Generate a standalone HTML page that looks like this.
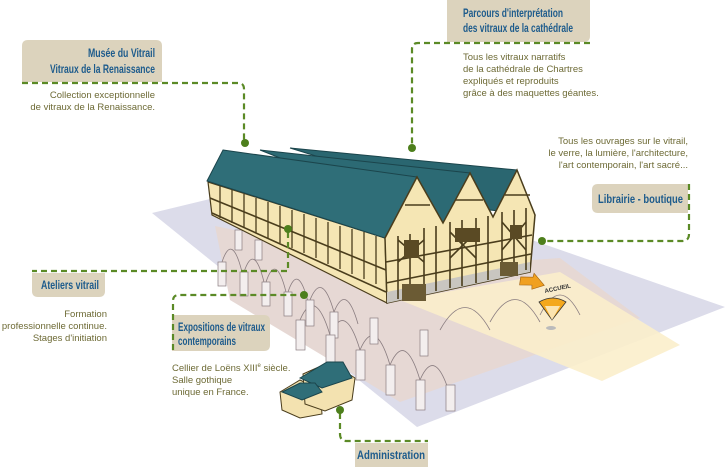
<!DOCTYPE html>
<html><head><meta charset="utf-8"><style>
html,body{margin:0;padding:0;background:#fff;}
svg{display:block}
.t{font-family:"Liberation Sans",sans-serif;font-weight:bold;font-size:11.5px;fill:#1d5b8c}
.b{font-family:"Liberation Sans",sans-serif;font-size:9.5px;fill:#6d6a35}
.d{fill:none;stroke:#5b8a26;stroke-width:2.2;stroke-dasharray:6,4}
.box{fill:#dcd3bd}
.col{fill:#f3eeee;stroke:#8a7d80;stroke-width:.7}
.arc{fill:none;stroke:#8a7d80;stroke-width:.8}
.tim{stroke:#4a3d1c;stroke-width:1.6;fill:none}
</style></head><body>
<svg width="728" height="467" viewBox="0 0 728 467" xmlns="http://www.w3.org/2000/svg">
<polygon points="152,213 330,170 725,307 417,427" fill="#dcdcea"/>
<polygon points="215,226 420,268 560,258 640,318 400,402 230,300" fill="#e6d8d4"/>
<polygon points="400,300 560,272 680,345 602,381" fill="#fbeecb" opacity=".9"/>
<g>
<path class="arc" d="M222,262 q10,-30 20,10 M244,272 q10,-30 20,10 M266,282 q10,-30 20,10 M288,292 q10,-30 20,10 M310,300 q12,-30 24,12 M334,312 q12,-30 24,12"/>
<path class="arc" d="M300,320 q15,-35 30,15 M330,335 q15,-35 30,15 M360,350 q15,-35 30,15 M390,365 q15,-35 30,15 M420,380 q15,-35 30,15"/>
<path class="arc" d="M440,330 q25,-45 50,0 M490,322 q25,-45 50,0 M540,315 q20,-40 40,0"/>
<rect class="col" x="218" y="262" width="8" height="24"/>
<rect class="col" x="240" y="272" width="8" height="24"/>
<rect class="col" x="262" y="282" width="8" height="24"/>
<rect class="col" x="284" y="292" width="8" height="24"/>
<rect class="col" x="306" y="300" width="8" height="26"/>
<rect class="col" x="330" y="312" width="8" height="26"/>
<rect class="col" x="296" y="320" width="9" height="30"/>
<rect class="col" x="326" y="335" width="9" height="30"/>
<rect class="col" x="356" y="350" width="9" height="30"/>
<rect class="col" x="386" y="365" width="9" height="30"/>
<rect class="col" x="416" y="380" width="9" height="30"/>
<rect class="col" x="446" y="385" width="9" height="26"/>
<rect class="col" x="370" y="318" width="8" height="26"/>
<rect class="col" x="420" y="330" width="8" height="26"/>
<rect class="col" x="255" y="240" width="7" height="20"/>
<rect class="col" x="235" y="230" width="7" height="20"/>
</g>
<polygon points="208,182 385,238 387,303 212,215" fill="#f5e6b4" stroke="#4a3d1c" stroke-width="1.2"/>
<g class="tim">
<line x1="210" y1="198" x2="386" y2="270"/>
<line x1="212" y1="213" x2="386" y2="292"/>
<path d="M220,186v32 M232,190v33 M244,194v34 M256,198v35 M268,202v36 M280,206v37 M292,210v38 M304,214v39 M316,218v40 M328,222v42 M340,226v43 M352,229v45 M364,232v47 M376,236v48" stroke-width="1.3"/>
</g>
<polygon points="290,148 517,170 535,215 490,210" fill="#2a6670" stroke="#1b454c"/>
<polygon points="260,150 470,173 493,217 443,223" fill="#2c6a74" stroke="#1b454c"/>
<polygon points="223,150 417,177 385,238 207,181" fill="#2f6e78" stroke="#1b454c"/>
<polygon points="385,238 417,177 443,223 470,173 493,217 517,170 535,215 530,272 387,303" fill="#f5e6b4" stroke="#4a3d1c" stroke-width="1.5"/>
<polygon points="387,292 530,262 530,272 387,303" fill="#c9c6c0"/>
<g class="tim">
<line x1="386" y1="262" x2="532" y2="235"/>
<line x1="386" y1="283" x2="531" y2="254"/>
<path d="M398,236v63 M410,234v62 M424,228v66 M436,226v65 M450,222v66 M462,220v66 M476,218v65 M488,216v64 M502,212v64 M514,210v62 M526,208v62"/>
<path d="M398,240 L424,262 M424,240 L398,262 M450,232 L476,258 M476,232 L450,258 M502,222 L526,250 M526,222 L502,250"/>
<path d="M405,205 h25 M455,200 h28 M505,195 h25"/>
</g>
<rect x="404" y="240" width="15" height="18" fill="#5a4a24"/>
<rect x="455" y="228" width="25" height="14" fill="#5a4a24"/>
<rect x="510" y="225" width="12" height="14" fill="#5a4a24"/>
<rect x="402" y="284" width="24" height="17" fill="#6b5b34"/>
<rect x="500" y="262" width="18" height="14" fill="#6b5b34"/>
<polygon points="520,280 532,277 532,273 545,282 534,289 533,285 521,288" fill="#f0a020" stroke="#a06010" stroke-width=".6" transform="rotate(15 532 281)"/>
<text x="545" y="293" font-family="Liberation Sans,sans-serif" font-size="6" font-weight="bold" fill="#333" transform="rotate(-12 545 293)">ACCUEIL</text>
<path d="M539,302 Q553,294 566,302 L552,320 Z" fill="#f4a81c" stroke="#333" stroke-width=".8"/>
<path d="M545,306 L560,306 L552,320Z" fill="#fbe4b0"/>
<ellipse cx="551" cy="328" rx="5" ry="2" fill="#bbb"/>
<polygon points="280,392 300,380 320,390 322,414 300,418 282,410" fill="#f3e2b0" stroke="#4a3d1c"/>
<polygon points="303,374 330,362 355,378 352,400 325,411 305,404" fill="#f3e2b0" stroke="#4a3d1c"/>
<polygon points="300,378 327,362 343,362 352,378 322,388" fill="#2f6e78" stroke="#1b454c"/>
<polygon points="282,392 300,383 315,383 322,392 302,400" fill="#2f6e78" stroke="#1b454c"/>

<path class="box" d="M22,82 V46 q0,-6 6,-6 H156 q6,0 6,6 V82 Z"/>
<text class="t" x="88" y="57" textLength="67" lengthAdjust="spacingAndGlyphs">Musée du Vitrail</text>
<text class="t" x="50" y="73" textLength="105" lengthAdjust="spacingAndGlyphs">Vitraux de la Renaissance</text>
<path class="d" d="M22,83 H238 q6,0 6,6 V140"/>
<circle cx="245" cy="143" r="4" fill="#4d7f1c"/>
<text class="b" x="155" y="98" text-anchor="end">Collection exceptionnelle</text>
<text class="b" x="155" y="110" text-anchor="end">de vitraux de la Renaissance.</text>

<path class="box" d="M447,42 V0 H590 V36 q0,6 -6,6 Z"/>
<text class="t" x="463" y="17" textLength="100" lengthAdjust="spacingAndGlyphs">Parcours d'interprétation</text>
<text class="t" x="463" y="32" textLength="110" lengthAdjust="spacingAndGlyphs">des vitraux de la cathédrale</text>
<path class="d" d="M590,43 H418 q-6,0 -6,6 V146"/>
<circle cx="412" cy="148" r="4" fill="#4d7f1c"/>
<text class="b" x="463" y="60">Tous les vitraux narratifs</text>
<text class="b" x="463" y="72">de la cathédrale de Chartres</text>
<text class="b" x="463" y="84">expliqués et reproduits</text>
<text class="b" x="463" y="96">grâce à des maquettes géantes.</text>

<text class="b" x="688" y="144" text-anchor="end">Tous les ouvrages sur le vitrail,</text>
<text class="b" x="688" y="156" text-anchor="end">le verre, la lumière, l'architecture,</text>
<text class="b" x="688" y="168" text-anchor="end">l'art contemporain, l'art sacré...</text>
<path class="box" d="M598,184 H688 V213 H598 q-6,0 -6,-6 V190 q0,-6 6,-6 Z"/>
<text class="t" x="598" y="203" textLength="85" lengthAdjust="spacingAndGlyphs">Librairie - boutique</text>
<path class="d" d="M689,184 V234 q0,7 -7,7 H546"/>
<circle cx="542" cy="241" r="4" fill="#4d7f1c"/>

<path class="d" d="M288,232 V271 H32"/>
<circle cx="288" cy="229" r="4" fill="#4d7f1c"/>
<path class="box" d="M32,273 H105 V291 q0,6 -6,6 H38 q-6,0 -6,-6 Z"/>
<text class="t" x="41" y="289" textLength="58" lengthAdjust="spacingAndGlyphs">Ateliers vitrail</text>
<text class="b" x="107" y="317" text-anchor="end">Formation</text>
<text class="b" x="107" y="329" text-anchor="end">professionnelle continue.</text>
<text class="b" x="107" y="341" text-anchor="end">Stages d'initiation</text>

<path class="box" d="M172,315 H264 q6,0 6,6 V345 q0,6 -6,6 H172 Z"/>
<text class="t" x="178" y="331" textLength="87" lengthAdjust="spacingAndGlyphs">Expositions de vitraux</text>
<text class="t" x="178" y="345" textLength="58" lengthAdjust="spacingAndGlyphs">contemporains</text>
<path class="d" d="M173,350 V301 q0,-6 6,-6 H302"/>
<circle cx="304" cy="295" r="4" fill="#4d7f1c"/>
<text class="b" x="172" y="371">Cellier de Loëns XIII<tspan font-size="6" dy="-4">e</tspan><tspan dy="4"> siècle.</tspan></text>
<text class="b" x="172" y="383">Salle gothique</text>
<text class="b" x="172" y="395">unique en France.</text>

<path class="d" d="M340,413 V434 q0,7 7,7 H428"/>
<circle cx="340" cy="410" r="4" fill="#4d7f1c"/>
<path class="box" d="M355,443 H428 V467 H355 Z"/>
<text class="t" x="357" y="459" textLength="68" lengthAdjust="spacingAndGlyphs">Administration</text>
</svg>
</body></html>
